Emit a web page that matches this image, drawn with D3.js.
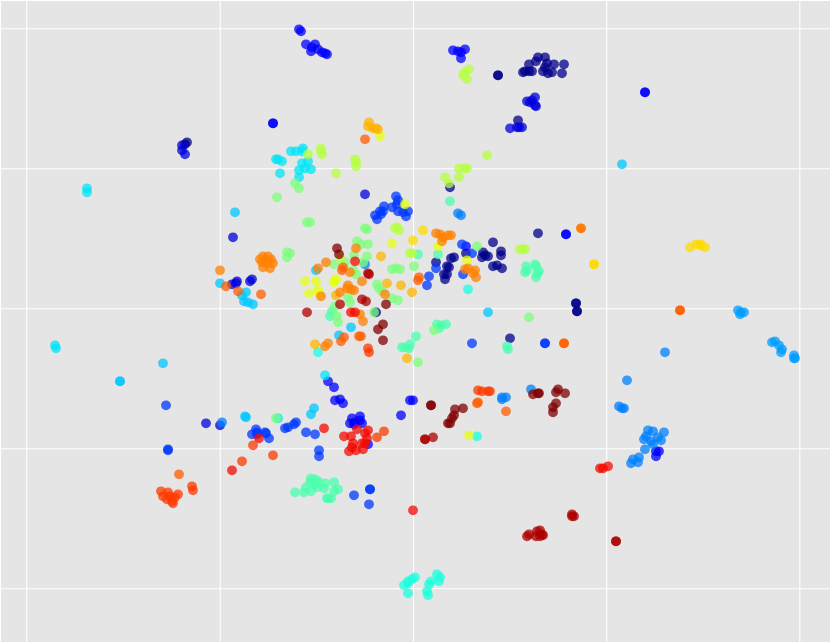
<!DOCTYPE html>
<html><head><meta charset="utf-8">
<style>html,body{margin:0;padding:0;background:#fff}svg{display:block}</style>
<script src="https://cdnjs.cloudflare.com/ajax/libs/d3/7.8.5/d3.min.js"></script>
</head><body><div id="chart"></div>
<script>
const xTicks=[-386.7,-193.3,0,193.3,386.3];
const yTicks=[-280,-140,0,140,280];
const navy=[[125,251],[132,251],[116,244],[123,247],[134,245],[132,241],[112,237],[110,236],[116,237],[119,237],[130,237],[135,235],[139,236],[141,244],[151,244],[149,235],[85,233],[85,233],[53,55],[70,56],[69,51],[72,53],[75,52],[88,57],[88,53],[80,42],[84,43],[89,40],[41,51],[38,50],[34,42],[36,41],[23,46],[31,34],[34,34],[32,29],[80,66],[125,75],[37,121],[105,188],[-226,166],[-228,164],[-37,-4],[163,5],[163,5],[164,-3],[164,-3],[97,-30]];
const darkBlue=[[-231,163],[-228,154],[-180,71],[-48,114],[-181,24],[-163,27],[-207,-115],[-193,-117],[97,180],[104,181],[106,181],[109,181],[114,207],[119,208],[122,211],[117,206],[123,202],[122,203],[-177,25],[-176,27],[-161,29],[-231,158]];
const blue=[[-140,185],[-140,185],[232,216],[232,216],[153,74],[153,74],[-114,279],[-112,277],[-107,264],[-102,257],[-101,261],[-98,264],[-95,259],[-91,256],[-88,255],[-86,254],[40,258],[45,257],[48,256],[52,259],[48,250],[-85,-73],[-79,-79],[-78,-92],[-73,-91],[-70,-95],[-3,-92],[0,-92],[-12,-107],[-53,-108],[-61,-110],[-63,-115],[-58,-114],[-53,-112],[-51,-115],[-59,-116],[-45,-136],[243,-143],[246,-143],[243,-148],[53,62]];
const royal=[[-17,112],[-15,108],[-29,102],[-21,101],[-16,104],[-30,97],[-32,94],[-15,97],[-10,96],[-5,97],[-36,89],[-38,93],[-33,97],[-7,92],[49,64],[59,55],[23,40],[16,32],[14,23],[50,34],[-247,-97],[-157,-121],[-148,-124],[-161,-126],[-156,-124],[-156,-126],[-147,-125],[-144,-130],[-117,-114],[-119,-116],[-125,-119],[-128,-120],[-107,-124],[-98,-126],[-94,-142],[-94,-148],[-245,-141],[-245,-142],[-59,-187],[-43,-181],[-43,-181],[-44,-196],[59,-35],[132,-35],[132,-35]];
const azure=[[89,-89],[93,-89],[89,-91],[206,-98],[209,-100],[211,-100],[214,-72],[252,-44],[235,-122],[240,-123],[251,-124],[231,-131],[233,-128],[238,-133],[245,-129],[248,-132],[232,-141],[240,-136],[218,-155],[220,-151],[225,-154],[226,-149],[-191,-114],[-48,44],[45,95],[48,93],[118,-81]];
const sky=[[325,-2],[328,-4],[331,-4],[327,-6],[359,-34],[362,-33],[366,-37],[369,-41],[368,-44],[381,-47],[381,-50],[382,-50]];
const lightBlue=[[-178,96],[-193,25],[-167,16],[-171,13],[-169,7],[-165,6],[-160,4],[-250,-55],[-293,-73],[-293,-73],[-168,-108],[-167,-109],[-99,-100],[-102,-106],[209,144],[-97,38],[-62,-19],[-74,-27],[75,-4]];
const cyan=[[-326,120],[-326,116],[-358,-37],[-357,-40],[-137,149],[-135,149],[-131,147],[-133,135],[-122,157],[-117,157],[-111,157],[-110,160],[-111,145],[-105,147],[-114,138],[-108,140],[-102,139],[-114,131],[-88,-67],[-135,-110]];
const aqua=[[2,-269],[-1,-271],[-5,-273],[-5,-275],[-9,-277],[-5,-285],[24,-266],[27,-269],[26,-273],[18,-273],[16,-276],[14,-283],[15,-287],[64,-128],[-95,-44],[55,19]];
const spring=[[-102,-170],[-98,-171],[-95,-173],[-103,-174],[-98,-176],[-88,-175],[-79,-174],[-107,-179],[-96,-179],[-89,-180],[-102,-183],[-109,-184],[-118,-184],[-79,-183],[-75,-181],[-86,-190],[-82,-190],[-85,-190],[113,42],[112,36],[114,38],[122,44],[126,37],[124,34],[123,31],[123,42],[24,-16],[28,-17],[33,-16],[26,-20],[3,-28],[-11,-39],[-8,-39],[-4,-40],[-3,-36],[94,-38],[95,-41],[5,54],[37,107],[25,54],[-81,-3],[-83,-8]];
const lightGreen=[[-118,125],[-114,120],[-136,111],[-106,86],[-103,86],[-48,80],[-46,79],[-56,67],[-52,64],[-45,64],[-126,56],[-123,55],[-126,51],[-59,53],[-46,52],[-79,44],[-68,46],[-50,46],[-60,38],[-57,34],[-21,39],[-17,40],[-13,39],[1,42],[-36,24],[-34,20],[-31,17],[-21,10],[-15,8],[-65,11],[-63,6],[-39,-4],[-78,2],[-76,-8],[-75,-14],[64,62],[116,-9],[5,-54],[-137,-110],[21,-22]];
const lime=[[56,239],[52,236],[50,233],[54,229],[74,153],[46,140],[52,140],[54,140],[46,131],[32,131],[36,125],[-92,160],[-92,157],[-91,154],[-77,135],[-58,149],[-57,146],[-57,142],[-105,154],[-18,80],[-14,78],[-16,81],[-3,55],[-1,55],[107,59],[110,59],[112,59],[-72,50]];
const yellow=[[-33,172],[-8,104],[-108,27],[-97,27],[-104,15],[-95,18],[-94,15],[-77,29],[-79,26],[-78,28],[-21,65],[25,62],[54,48],[56,-127]];
const gold=[[10,78],[0,68],[181,44],[181,44],[277,61],[283,64],[287,64],[288,63],[292,61],[168,80]];
const amber=[[-44,186],[-45,182],[-40,180],[-37,180],[-35,179],[-32,52],[-26,25],[-12,23],[-1,16],[-77,13],[-98,-36],[-6,-50]];
const orange=[[-150,52],[-145,52],[-153,49],[-148,48],[-142,49],[-140,45],[-150,41],[-143,40],[-151,46],[-146,45],[-193,38],[23,75],[27,74],[30,71],[35,73],[38,73],[29,67],[-57,60],[-87,46],[-95,40],[-63,36],[-51,27],[-65,23],[-66,20],[-62,19],[-59,18],[-73,16],[-28,14],[-92,12],[-53,-6],[-50,-13],[-85,-35],[-88,-38],[55,40],[52,39],[62,38],[60,35],[63,31]];
const darkOrange=[[-48,169],[-187,22],[-175,17],[-152,14],[-70,41],[-71,38],[-69,-29],[-72,-33],[-54,-28],[-52,-28],[6,31],[5,28],[168,80],[-234,-166],[65,-94],[64,-95],[93,-103],[151,-35],[151,-35],[267,-2],[267,-2]];
const redOrange=[[65,-82],[69,-83],[75,-83],[77,-83],[-45,-40],[-44,-44],[-252,-183],[-245,-184],[-235,-186],[-250,-188],[-243,-188],[-238,-189],[-246,-191],[-241,-193],[-240,-195],[-221,-178],[-220,-182],[-171,-153],[-160,-137],[-140,-147],[-36,-129],[-29,-123]];
const red=[[-58,47],[-181,-162],[-89,-120],[-69,-128],[-62,-128],[-56,-121],[-45,-122],[-48,-125],[-46,-130],[-51,-135],[-50,-141],[-61,-139],[-64,-143],[-57,-142],[-60,-135],[-48,-135],[-154,-130],[0,-202],[187,-160],[190,-160],[195,-158],[-62,-4],[-58,-4]];
const crimson=[[-44,34],[-45,35],[-51,9],[-47,7],[-73,4],[-106,-4],[159,-206],[159,-208],[161,-208],[114,-228],[116,-226],[123,-228],[124,-223],[127,-222],[129,-226],[130,-227],[127,-228],[203,-233],[203,-233],[12,-131],[12,-131],[20,-129]];
const maroon=[[-76,60],[-74,54],[-27,4],[-30,-16],[-35,-21],[-30,-32],[18,-97],[18,-97],[42,-101],[50,-100],[41,-107],[39,-110],[37,-115],[35,-115],[120,-86],[126,-85],[125,-85],[145,-81],[143,-84],[152,-85],[143,-95],[140,-99],[140,-104]];
const classValues=[.01,.08,.12,.18,.25,.28,.32,.35,.38,.44,.5,.57,.63,.68,.72,.775,.81,.85,.9,.96,1];
const classPoints=[navy,darkBlue,blue,royal,azure,sky,lightBlue,cyan,aqua,spring,lightGreen,lime,yellow,gold,amber,orange,darkOrange,redOrange,red,crimson,maroon];

const W=831,H=644,L=1,R=830,T=1,B=642;
const x=d3.scaleLinear().domain([-412,417]).range([L,R]);
const y=d3.scaleLinear().domain([-333.7,307.3]).range([B,T]);
const rC=d3.scaleLinear().domain([0,.35,.66,.89,1]).range([0,0,1,1,.5]).clamp(true);
const gC=d3.scaleLinear().domain([0,.125,.375,.64,.91,1]).range([0,0,1,1,0,0]).clamp(true);
const bC=d3.scaleLinear().domain([0,.11,.34,.65,1]).range([.5,1,1,0,0]).clamp(true);
const jet=v=>d3.rgb(rC(v)*255,gC(v)*255,bC(v)*255).formatHex();

const svg=d3.select('#chart').append('svg').attr('width',W).attr('height',H);
svg.append('rect').attr('x',L).attr('y',T).attr('width',R-L).attr('height',B-T).attr('fill','#e5e5e5');
const gx=svg.append('g').attr('transform',`translate(0,${B})`).call(d3.axisBottom(x).tickValues(xTicks).tickSize(-(B-T)).tickFormat(''));
const gy=svg.append('g').attr('transform',`translate(${L},0)`).call(d3.axisLeft(y).tickValues(yTicks).tickSize(-(R-L)).tickFormat(''));
[gx,gy].forEach(g=>{g.select('.domain').remove();g.selectAll('line').attr('stroke','#fff').attr('stroke-width',1.1);});
const rows=classPoints.flatMap((pts,i)=>pts.map(p=>({x:p[0],y:p[1],v:classValues[i]})));
svg.append('g').selectAll('circle').data(rows).join('circle')
  .attr('cx',d=>x(d.x)).attr('cy',d=>y(d.y)).attr('r',4.9)
  .attr('fill',d=>jet(d.v)).attr('fill-opacity',.75);
</script></body></html>
